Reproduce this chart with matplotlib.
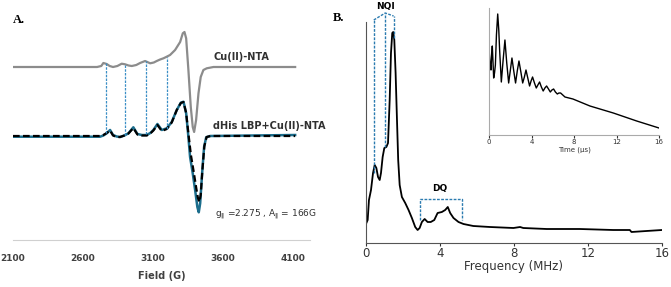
import matplotlib.pyplot as plt

# ---- panel A: CW EPR (field in G, intensity in arbitrary units) ----
cu_field = [2100, 2700, 2730, 2745, 2769, 2790, 2814, 2845, 2876, 2900, 2925,
            2948, 2980, 3007, 3043, 3079, 3105, 3126, 3150, 3174, 3200, 3221,
            3257, 3293, 3312, 3324, 3336, 3352, 3369, 3383, 3393, 3407, 3424,
            3440, 3459, 3483, 3531, 4114]
cu_int = [173, 173, 174, 177, 176, 174, 173, 174, 176.3, 175.7, 174.5,
          174, 175, 177, 179, 176.7, 177.5, 179, 180.5, 181.7, 183.5, 185,
          190, 198, 206.7, 208, 201.7, 170, 133, 113, 108, 120, 146.7,
          163, 170, 171.7, 173, 173]

his_field = [2100, 2721, 2745, 2769, 2793, 2814, 2840, 2864, 2895, 2924, 2959,
             2988, 3020, 3055, 3080, 3102, 3131, 3162, 3198, 3233, 3269, 3298,
             3317, 3336, 3352, 3364, 3383, 3400, 3416, 3426, 3436, 3450, 3464,
             3479, 3507, 4114]
his_int = [103.3, 103.3, 104.5, 106.7, 110, 105, 103.5, 103, 104.5, 106.7, 112.7,
           106, 105, 105, 107, 110, 116, 110, 111.7, 118, 130, 137.3,
           138.3, 126.7, 103, 83, 66.7, 50, 33, 27.7, 36.7, 66.7, 93,
           102.7, 104, 105]

sim_field = [2100, 2721, 2745, 2769, 2793, 2814, 2840, 2864, 2895, 2924, 2959,
             2988, 3020, 3055, 3080, 3102, 3131, 3162, 3198, 3233, 3269, 3298,
             3317, 3336, 3355, 3370, 3390, 3408, 3420, 3430, 3440, 3452, 3466,
             3482, 3510, 4114]
sim_int = [104, 104, 105, 107, 109.5, 104.5, 103, 103, 104.5, 106.5, 112,
           105.5, 104.5, 104.5, 106.5, 109.5, 115, 109, 111, 117.5, 130, 137,
           138, 127, 103, 85, 68, 52, 42, 38, 45, 70, 94,
           103, 104, 104]

hf_lines = [2764, 2900, 3050, 3200]
hf_top = [177, 176, 179, 183]
hf_bot = [107, 105, 106, 111]

a_ticks = [2100, 2600, 3100, 3600, 4100]

# ---- panel B: frequency-domain spectrum ----
freq = [0.02, 0.09, 0.16, 0.27, 0.38, 0.47, 0.56, 0.65, 0.74, 0.81, 0.9, 0.99,
        1.1, 1.19, 1.28, 1.35, 1.42, 1.47, 1.53, 1.6, 1.67, 1.74, 1.82, 1.94,
        2.12, 2.3, 2.48, 2.66, 2.79, 2.9, 3.02, 3.17, 3.33, 3.5, 3.69, 3.87,
        4.1, 4.28, 4.42, 4.55, 4.73, 5.0, 5.27, 5.8, 6.7, 7.97, 8.33, 8.5,
        9.77, 11.56, 13.36, 14.26, 14.35, 15.16, 16.0]
spec = [20, 23, 43, 53, 70, 78, 75, 66, 63, 70, 86, 95,
        96, 100, 143, 190, 210, 211, 203, 170, 126, 83, 58, 46,
        40, 33, 25, 16, 13, 15, 21, 24, 21, 21, 23, 30,
        31, 33, 36, 30, 25, 21, 19, 17, 16, 15, 16, 15,
        14, 14, 13, 13, 11, 12, 13]

nqi_x = [0.42, 1.04, 1.49]
nqi_bot = [70, 96, 205]
nqi_top = [223, 230, 227]
dq_x = [2.9, 5.18]
dq_bot = 23
dq_top = 44
b_ticks = [0, 4, 8, 12, 16]

# ---- inset: time-domain echo decay ----
t_us = [0, 0.1, 0.19, 0.25, 0.31, 0.38, 0.44, 0.52, 0.6, 0.7, 0.82, 0.92,
        1.0, 1.16, 1.33, 1.5, 1.67, 1.85, 2.0, 2.16, 2.33, 2.5, 2.66, 2.82,
        3.0, 3.17, 3.33, 3.48, 3.65, 3.82, 3.96, 4.1, 4.28, 4.45, 4.6, 4.76,
        4.93, 5.1, 5.26, 5.42, 5.6, 5.77, 5.92, 6.08, 6.25, 6.43, 6.58, 6.74,
        7.15, 7.9, 9.5, 11.7, 13.9, 16.0]
echo = [87, 72, 65, 80, 89, 72, 57, 62, 70, 100, 121, 105,
        85, 53, 75, 95, 72, 52, 64, 77, 64, 52, 64, 74,
        63, 52, 58, 65, 57, 49, 54, 58, 52, 47, 50, 53,
        48, 44, 47, 49, 46, 43, 45, 46, 43, 41, 42, 42,
        38, 36, 29, 22, 14, 7]

fig = plt.figure(figsize=(6.71, 2.87), dpi=100)
W, H = 671, 287


def px_axes(x0, y0, x1, y1):
    return fig.add_axes([x0 / W, 1 - y1 / H, (x1 - x0) / W, (y1 - y0) / H])


dotted = dict(color='#2b7bb0', lw=1, ls=(0, (2, 1)))

# panel A
axA = px_axes(13, 20, 310, 240)
axA.plot(cu_field, cu_int, color='#8c8c8c', lw=1.6)
axA.plot(his_field, his_int, color='#1b6d8c', lw=1.8)
axA.plot(sim_field, sim_int, color='black', lw=1.6, ls=(0, (3, 1.5)))
for x, t, b in zip(hf_lines, hf_top, hf_bot):
    axA.plot([x, x], [b, t], color='#3b8fc6', lw=0.9, ls=(0, (2, 1)))
axA.set_xlim(2100, 4220)
axA.set_ylim(0, 220)
axA.set_yticks([])
axA.set_xticks(a_ticks)
axA.tick_params(axis='x', length=0, pad=10, labelsize=6.5, colors='#404040')
for lab in axA.get_xticklabels():
    lab.set_fontweight('bold')
for s in ['top', 'right', 'left']:
    axA.spines[s].set_visible(False)
axA.spines['bottom'].set_color('#d0d0d0')
axA.spines['bottom'].set_linewidth(0.8)
axA.set_xlabel('Field (G)', fontsize=7, fontweight='bold', color='#404040', labelpad=6)
axA.text(3530, 183, 'Cu(II)-NTA', fontsize=7, fontweight='bold', color='#303030', va='center')
axA.text(3530, 114, 'dHis LBP+Cu(II)-NTA', fontsize=7, fontweight='bold', color='#303030', va='center')
axA.text(3540, 25, r'g$_{\Vert}$ =2.275 , A$_{\Vert}$ = 166G', fontsize=6.5, color='#303030', va='center')
fig.text(13 / W, 1 - 23 / H, 'A.', fontsize=9, fontweight='bold', family='Liberation Serif')

# panel B
axB = px_axes(366, 22, 662, 243)
axB.plot(freq, spec, color='black', lw=1.3)
for x, b, t in zip(nqi_x, nqi_bot, nqi_top):
    axB.plot([x, x], [b, t], clip_on=False, **dotted)
axB.plot(nqi_x, nqi_top, clip_on=False, **dotted)
axB.plot([dq_x[0], dq_x[0], dq_x[1], dq_x[1]], [dq_bot, dq_top, dq_top, dq_bot], **dotted)
axB.text(1.05, 237, 'NQI', fontsize=6.5, fontweight='bold', ha='center', va='center', clip_on=False)
axB.text(4.0, 55, 'DQ', fontsize=6.5, fontweight='bold', ha='center', va='center')
axB.set_xlim(0, 16)
axB.set_ylim(0, 221)
axB.set_yticks([])
axB.set_xticks(b_ticks)
axB.tick_params(axis='x', length=2, pad=1, labelsize=8.5, colors='#333333')
for s in ['top', 'right']:
    axB.spines[s].set_visible(False)
axB.spines['left'].set_color('#555555')
axB.spines['bottom'].set_color('#555555')
axB.set_xlabel('Frequency (MHz)', fontsize=8.5, color='#333333', labelpad=0)
fig.text(333 / W, 1 - 21 / H, 'B.', fontsize=9, fontweight='bold', family='Liberation Serif')

# inset
axI = px_axes(489, 8, 659, 135)
axI.plot(t_us, echo, color='black', lw=1.0)
axI.set_xlim(0, 16)
axI.set_ylim(0, 127)
axI.set_yticks([])
axI.set_xticks(b_ticks)
axI.tick_params(axis='x', length=2, pad=1, labelsize=5, colors='#333333')
for s in ['top', 'right']:
    axI.spines[s].set_visible(False)
axI.spines['left'].set_color('#aaaaaa')
axI.spines['bottom'].set_color('#aaaaaa')
axI.set_xlabel('Time (μs)', fontsize=5, color='#333333', labelpad=1)

fig.savefig('out.png', dpi=100)
